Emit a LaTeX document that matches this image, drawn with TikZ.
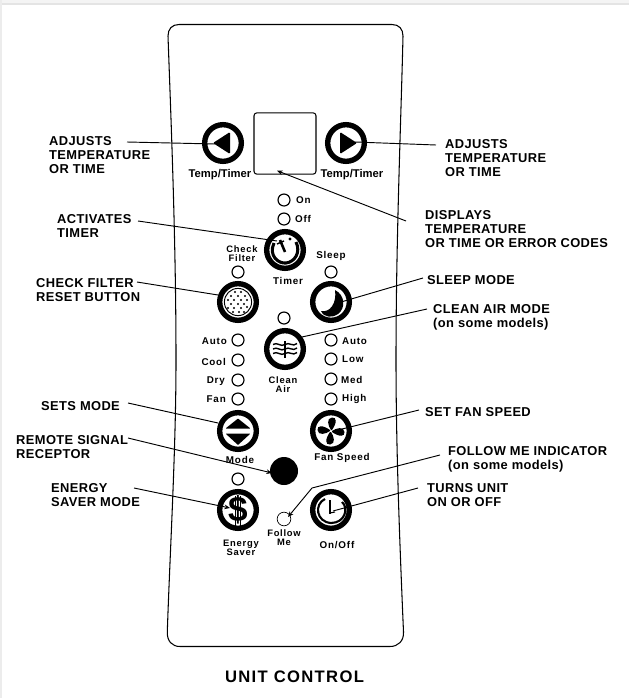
\documentclass[tikz,border=0pt]{standalone}
\usepackage{fontspec}
\setmainfont{Liberation Sans}
\newfontfamily\spaced[LetterSpace=3]{Liberation Sans}
\newfontfamily\wide[LetterSpace=8]{Liberation Sans}
\usetikzlibrary{arrows.meta}
\definecolor{rimgray}{HTML}{E4E4E4}
\tikzset{
  btn/.style={circle, draw=black, fill=white, line width=4.6pt, minimum size=1.10cm, inner sep=0pt},
  led/.style={circle, draw=black, fill=white, line width=1pt, minimum size=0.36cm, inner sep=0pt},
  callout/.style={anchor=north west, align=left, inner sep=0pt, font=\spaced\bfseries\fontsize{11}{12.2}\selectfont},
  keyname/.style={inner sep=0pt, align=center, font=\wide\bfseries\fontsize{8}{7.6}\selectfont},
  ledname/.style={inner sep=0pt, font=\wide\bfseries\fontsize{8.4}{9}\selectfont},
  leader/.style={draw=black, line width=0.8pt},
  leadtip/.style={leader, -{Stealth[length=1.7mm, width=1.4mm]}}
}
\begin{document}
\begin{tikzpicture}[x=0.03cm, y=-0.03cm]
\useasboundingbox (0,0) rectangle (629,698);
\fill[white] (0,0) rectangle (629,698);
\fill[rimgray!40] (0,0) rectangle (629,4);
\fill[rimgray] (0,3.4) rectangle (629,4.6);
\fill[rimgray!70] (0,0) rectangle (2,698);
% panel
\draw[line width=0.9pt] (179,24.5) -- (392,24.5) .. controls (399,24.5) and (403,29) .. (403,36)
  .. controls (401,120) and (396,240) .. (396,360) .. controls (396,450) and (400,550) .. (403.5,632)
  .. controls (404,641) and (398,646.5) .. (390,646.5) -- (180,646.5)
  .. controls (172,646.5) and (167,641) .. (167.3,632) .. controls (170,550) and (176,450) .. (176,360)
  .. controls (176,240) and (171,120) .. (168,36) .. controls (168,29) and (172,24.5) .. (179,24.5);
% display
\node[draw=black, line width=0.9pt, rounded corners=2.5pt, minimum width=1.86cm, minimum height=1.84cm, inner sep=0pt] (display) at (285,143.5) {};
% buttons
\node[btn] (btnLeft) at (223,143) {};
\node[btn] (btnRight) at (346,143) {};
\node[btn] (btnTimer) at (285,250) {};
\node[btn] (btnFilter) at (238,302) {};
\node[btn] (btnSleep) at (331,302) {};
\node[btn] (btnClean) at (285,349) {};
\node[btn] (btnMode) at (238,431) {};
\node[btn] (btnFan) at (331,431) {};
\node[btn] (btnEnergy) at (238,510) {};
\node[btn] (btnPower) at (331,510) {};
\node[circle, fill=black, minimum size=0.84cm, inner sep=0pt] (receptor) at (284,471) {};
\node[led, line width=0.6pt, minimum size=0.41cm] (ledFollow) at (284,519) {};
% button icons
\fill[rounded corners=1pt] (213,143) -- (230,132) -- (230,154) -- cycle;
\fill[rounded corners=1pt] (357,143) -- (340,132) -- (340,154) -- cycle;
\begin{scope}[shift={(285,250)}]
\draw[line width=2.6pt] (-11,-7) .. controls (-17,6) and (-6,14) .. (1,13) .. controls (10,12) and (16,2) .. (11,-8);
\draw[line width=2.2pt] (-5,-10) -- (0,2);
\draw[line width=1.2pt] (-8,-6) -- (-1,-9);
\fill (5,-11) circle (1.6);
\end{scope}
\draw[line width=0.8pt] (btnFilter) circle (13.6);
\foreach \dx/\dy in {-3/-10,3/-10,-7/-6,0/-6,7/-6,-10/-2,-4/-2,3/-2,9/-2,-7/2,0/2,6/2,-10/6,-4/6,3/6,9/5,-5/10,1/10,6/10}
  \fill ([shift={(\dx,\dy)}]btnFilter.center) circle (1.1);
\fill (335,290) .. controls (345,295) and (346,308) .. (338,314) .. controls (333,318) and (324,318) .. (321,311)
  .. controls (330,313) and (337,303) .. cycle;
\begin{scope}[shift={(285,349)}]
\foreach \dy in {-4.5,0,4.5}
  \draw[line width=1.2pt] (-12,\dy) .. controls (-8,\dy-3) and (-4,\dy+3) .. (0,\dy) .. controls (4,\dy-3) and (8,\dy+3) .. (12,\dy-1);
\draw[line width=1.1pt] (0,-8) -- (0,9);
\end{scope}
\fill[rounded corners=0.6pt] (238,418.5) -- (250.5,428.5) -- (225.5,428.5) -- cycle;
\fill[rounded corners=0.6pt] (238,445) -- (250.5,433.5) -- (225.5,433.5) -- cycle;
\foreach \r in {0,90,180,270}
  \fill[shift={(331,431)}, rotate=\r] (0,-1) .. controls (-3,-5) and (-5,-13) .. (1,-13.5) .. controls (6,-14) and (6,-8) .. (1,-1) -- cycle;
\node[inner sep=0pt, font=\bfseries\fontsize{30}{30}\selectfont] (dollar) at (238,510) {\$};
\draw[line width=1pt] (235.5,496) -- (235.5,526) (240.5,496) -- (240.5,526);
\begin{scope}[shift={(331,510)}]
\draw[line width=1.8pt] (-6,-11) .. controls (-17,-6) and (-15,12) .. (0,13) .. controls (14,13) and (18,-2) .. (11,-8);
\draw[line width=1.8pt] (-1,-10) -- (-1,4);
\draw[line width=0.9pt] (-1,3) -- (4,2);
\end{scope}
% leds
\foreach \name/\ledx/\ledy in {On/284/200,Off/284/219,Check/238/272,Slp/331/272,Cln/284/318,Aa/238/340,Ab/238/360,Ac/238/380,Ad/238/399,Ba/331/340,Bb/331/359,Bc/331/379,Bd/331/399,En/238/479}
  \node[led] (led\name) at (\ledx,\ledy) {};
% led names
\node[ledname, anchor=west] (nameOn) at (296,200) {On};
\node[ledname, anchor=west] (nameOff) at (295,219) {Off};
\node[ledname, anchor=east] (nameAa) at (227,341) {Auto};
\node[ledname, anchor=east] (nameAb) at (226,362) {Cool};
\node[ledname, anchor=east] (nameAc) at (225,381) {Dry};
\node[ledname, anchor=east] (nameAd) at (226,399) {Fan};
\node[ledname, anchor=west] (nameBa) at (342,341) {Auto};
\node[ledname, anchor=west] (nameBb) at (342,359) {Low};
\node[ledname, anchor=west] (nameBc) at (341,380) {Med};
\node[ledname, anchor=west] (nameBd) at (342,399) {High};
% key names
\node[keyname, font=\bfseries\fontsize{9.6}{10}\selectfont] (nameLeft) at (220,175) {Temp/Timer};
\node[keyname, font=\bfseries\fontsize{9.6}{10}\selectfont] (nameRight) at (352,175) {Temp/Timer};
\node[keyname] (nameFilter) at (242,253.5) {Check\\Filter};
\node[ledname] (nameSleep) at (331,256) {Sleep};
\node[ledname] (nameTimer) at (288,281) {Timer};
\node[keyname] (nameClean) at (283,384.5) {Clean\\Air};
\node[ledname] (nameMode) at (240,460) {Mode};
\node[ledname] (nameFan) at (342,458) {Fan Speed};
\node[keyname] (nameEnergy) at (241,548) {Energy\\Saver};
\node[keyname] (nameFollow) at (284,538) {Follow\\Me};
\node[ledname] (namePower) at (337,545) {On/Off};
% callouts
\node[callout] (lblAdjLeft) at (49,136) {ADJUSTS\\TEMPERATURE\\OR TIME};
\node[callout] (lblAdjRight) at (445,139) {ADJUSTS\\TEMPERATURE\\OR TIME};
\node[callout] (lblDisplay) at (425,210) {DISPLAYS\\TEMPERATURE\\OR TIME OR ERROR CODES};
\node[callout] (lblTimer) at (57,214) {ACTIVATES\\TIMER};
\node[callout] (lblFilter) at (36,278) {CHECK FILTER\\RESET BUTTON};
\node[callout] (lblSleep) at (427,275) {SLEEP MODE};
\node[callout] (lblClean) at (433,304) {CLEAN AIR MODE\\(on some models)};
\node[callout] (lblMode) at (41,401) {SETS MODE};
\node[callout] (lblRemote) at (16,435) {REMOTE SIGNAL\\RECEPTOR};
\node[callout] (lblEnergy) at (51,483) {ENERGY\\SAVER MODE};
\node[callout] (lblFan) at (425,407) {SET FAN SPEED};
\node[callout] (lblFollow) at (448,446) {FOLLOW ME INDICATOR\\(on some models)};
\node[callout] (lblPower) at (427,483) {TURNS UNIT\\ON OR OFF};
\node[callout, anchor=north, font=\wide\bfseries\fontsize{14.2}{15}\selectfont] (title) at (294.5,671) {UNIT CONTROL};
% leaders
\draw[leader] ([shift={(78,6)}]lblAdjLeft.north west) -- ([shift={(-8,1)}]btnLeft.center);
\draw[leader] ([shift={(-9,6)}]lblAdjRight.north west) -- ([shift={(9,-1)}]btnRight.center);
\draw[leadtip] ([shift={(-19,11)}]lblDisplay.north west) -- ([shift={(-8,-4)}]display.south);
\draw[leader] ([shift={(81,7)}]lblTimer.north west) -- ([shift={(-8,-9)}]btnTimer.center);
\draw[leader] ([shift={(101,4)}]lblFilter.north west) -- ([shift={(-20,-7)}]btnFilter.center);
\draw[leader] ([shift={(-4,3)}]lblSleep.north west) -- ([shift={(10,0)}]btnSleep.center);
\draw[leader] ([shift={(-6,5)}]lblClean.north west) -- ([shift={(17,-12)}]btnClean.center);
\draw[leader] ([shift={(87,2)}]lblMode.north west) -- ([shift={(-20,-8)}]btnMode.center);
\draw[leadtip] ([shift={(112,3)}]lblRemote.north west) -- ([shift={(-12,2)}]receptor.center);
\draw[leadtip] ([shift={(83,5)}]lblEnergy.north west) -- ([shift={(-8,-2)}]btnEnergy.center);
\draw[leader] ([shift={(-6,3)}]lblFan.north west) -- ([shift={(7,-1)}]btnFan.center);
\coordinate (followBend) at (312,488);
\draw[leadtip] ([shift={(-8,9)}]lblFollow.north west) -- (followBend) -- ([shift={(4,-2)}]ledFollow.center);
\draw[leader] ([shift={(-9,5)}]lblPower.north west) -- ([shift={(2,1)}]btnPower.center);
\end{tikzpicture}
\end{document}
